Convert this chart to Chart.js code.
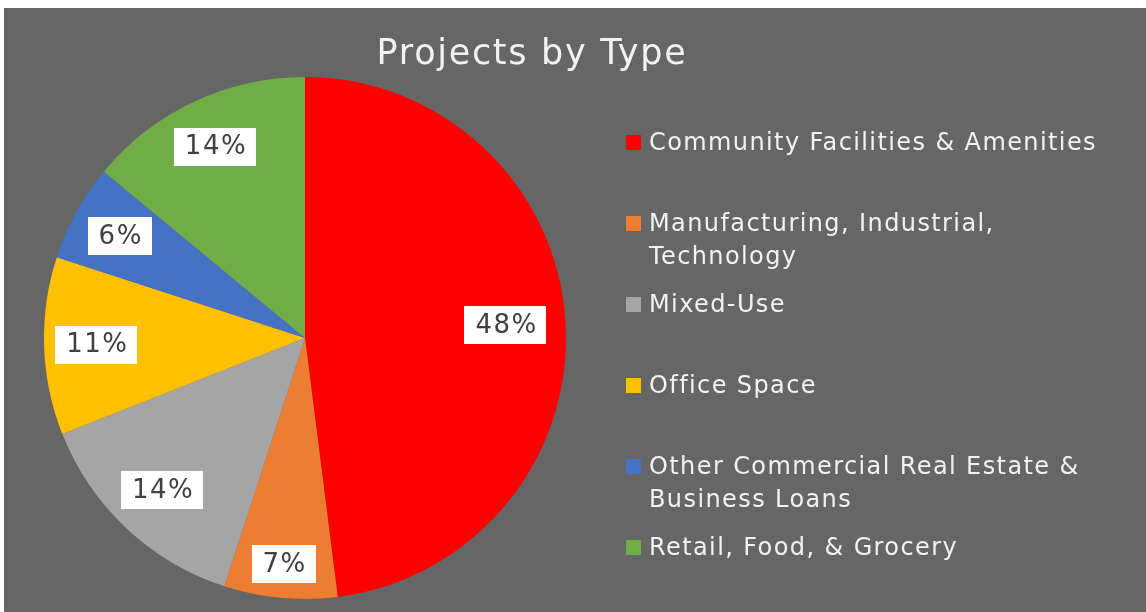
<!DOCTYPE html>
<html>
<head>
<meta charset="utf-8">
<title>Projects by Type</title>
<script src="https://cdn.jsdelivr.net/npm/chart.js@4.4.1/dist/chart.umd.min.js"></script>
<style>
  html, body {
    margin: 0;
    padding: 0;
    background: #ffffff;
    width: 1146px;
    height: 612px;
    overflow: hidden;
  }
  #wrap {
    position: absolute;
    left: 4px;
    top: 8px;
    width: 1142px;
    height: 604px;
    background: #666666;
  }
  #myChart {
    position: absolute;
    left: 0;
    top: 0;
  }
  #legend {
    position: absolute;
    left: 619px;
    top: 118px;
    margin: 0;
    padding: 0;
    list-style: none;
    font-family: "DejaVu Sans", Verdana, sans-serif;
    font-size: 24px;
    letter-spacing: 1.4px;
    line-height: 33px;
    color: #f2f2f2;
  }
  #legend li {
    position: relative;
    height: 81px;
    width: 480px;
    padding-left: 26px;
  }
  #legend .swatch {
    position: absolute;
    left: 3px;
    top: 9px;
    width: 15px;
    height: 15px;
  }
</style>
</head>
<body>
<div id="wrap">
  <canvas id="myChart" width="1142" height="604"></canvas>
  <ul id="legend"></ul>
</div>
<script>
// Project counts by type, as a share of the total (percent).
const categories = [
  "Community Facilities & Amenities",
  "Manufacturing, Industrial, Technology",
  "Mixed-Use",
  "Office Space",
  "Other Commercial Real Estate & Business Loans",
  "Retail, Food, & Grocery"
];
const shares = [48, 7, 14, 11, 6, 14];
const sliceColors = ["#ff0000", "#ed7d31", "#a5a5a5", "#ffc000", "#4472c4", "#70ad47"];

// how far out from the centre each value label sits (fraction of the radius)
const labelRadius = [0.77, 0.87, 0.80, 0.80, 0.81, 0.81];

const chartTitle = "Projects by Type";

// legend built as plain html next to the canvas
const legendEl = document.getElementById("legend");
categories.forEach((name, i) => {
  const li = document.createElement("li");
  const sw = document.createElement("span");
  sw.className = "swatch";
  sw.style.background = sliceColors[i];
  li.appendChild(sw);
  li.appendChild(document.createTextNode(name));
  legendEl.appendChild(li);
});

// white boxes with the percentage inside each slice
const sliceLabels = {
  id: "sliceLabels",
  afterDatasetsDraw(chart) {
    const ctx = chart.ctx;
    const meta = chart.getDatasetMeta(0);
    const values = chart.data.datasets[0].data;
    ctx.save();
    ctx.font = "26px 'DejaVu Sans', Verdana, sans-serif";
    ctx.letterSpacing = "1.5px";
    ctx.textAlign = "center";
    ctx.textBaseline = "middle";
    meta.data.forEach((arc, i) => {
      const p = arc.getProps(["x", "y", "startAngle", "endAngle", "outerRadius"], true);
      const mid = (p.startAngle + p.endAngle) / 2;
      const r = p.outerRadius * labelRadius[i];
      const cx = p.x + Math.cos(mid) * r;
      const cy = p.y + Math.sin(mid) * r;
      const text = values[i] + "%";
      const w = ctx.measureText(text).width + 20;
      const h = 38;
      ctx.fillStyle = "#ffffff";
      ctx.fillRect(Math.round(cx - w / 2), Math.round(cy - h / 2), Math.round(w), h);
      ctx.fillStyle = "#404040";
      ctx.fillText(text, cx + 1, cy + 1);
    });
    ctx.restore();
  }
};

// title sits above the pie, a bit left of the canvas centre
const titlePlugin = {
  id: "titlePlugin",
  afterDraw(chart) {
    const ctx = chart.ctx;
    ctx.save();
    ctx.font = "35px 'DejaVu Sans', Verdana, sans-serif";
    ctx.letterSpacing = "1.7px";
    ctx.fillStyle = "#f2f2f2";
    ctx.textAlign = "center";
    ctx.textBaseline = "middle";
    ctx.fillText(chartTitle, 528, 47);
    ctx.restore();
  }
};

const canvas = document.getElementById("myChart");
new Chart(canvas, {
  type: "pie",
  data: {
    labels: categories,
    datasets: [
      {
        data: shares,
        backgroundColor: sliceColors,
        borderWidth: 0
      }
    ]
  },
  options: {
    responsive: false,
    animation: false,
    layout: {
      padding: { left: 40, top: 69, right: 580, bottom: 13 }
    },
    plugins: {
      legend: { display: false },
      title: { display: false },
      tooltip: { enabled: false }
    }
  },
  plugins: [sliceLabels, titlePlugin]
});
</script>
</body>
</html>
